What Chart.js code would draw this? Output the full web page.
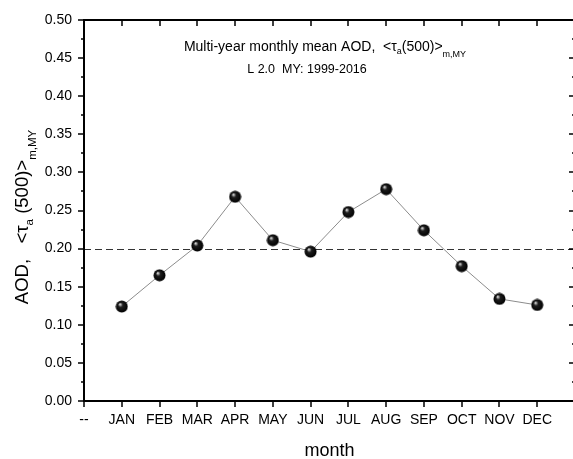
<!DOCTYPE html>
<html>
<head>
<meta charset="utf-8">
<script src="https://cdn.jsdelivr.net/npm/chart.js@4.4.1/dist/chart.umd.min.js"></script>
<style>
    html, body { margin: 0; padding: 0; overflow: hidden; background: #fff; }
</style>
</head>
<body>
<canvas id="chartAod" width="576" height="459"></canvas>
<script>
// Datos
const etiquetasMes = ['--', 'JAN', 'FEB', 'MAR', 'APR', 'MAY', 'JUN', 'JUL', 'AUG', 'SEP', 'OCT', 'NOV', 'DEC', ''];
const aodMensual = [0.124, 0.165, 0.204, 0.268, 0.211, 0.196, 0.248, 0.278, 0.224, 0.177, 0.134, 0.126];
const nivelReferencia = 0.20;
const rangoY = [0, 0.5];
const pasoY = 0.05;

const FUENTE = '"Liberation Sans", Arial, sans-serif';

// Marcador tipo esfera negra
function crearEsfera(r) {
    const c = document.createElement('canvas');
    c.width = c.height = r * 2 + 1;
    const g = c.getContext('2d');
    const cx = r + 0.5, cy = r + 0.5;
    const grad = g.createRadialGradient(cx - 2, cy - 2.5, 0, cx, cy, r);
    grad.addColorStop(0, '#ffffff');
    grad.addColorStop(0.14, '#b0b0b0');
    grad.addColorStop(0.38, '#1e1e1e');
    grad.addColorStop(1, '#000000');
    g.fillStyle = grad;
    g.beginPath();
    g.arc(cx, cy, r, 0, Math.PI * 2);
    g.fill();
    return c;
}

// Texto con subíndices
function dibujarTexto(ctx, partes, x, y, alinear) {
    let ancho = 0;
    partes.forEach(p => {
        ctx.font = p.tam + 'px ' + FUENTE;
        p.w = ctx.measureText(p.t).width;
        ancho += p.w;
    });
    let px = alinear === 'center' ? x - ancho / 2 : x;
    ctx.textAlign = 'left';
    ctx.textBaseline = 'alphabetic';
    ctx.fillStyle = '#000';
    partes.forEach(p => {
        ctx.font = p.tam + 'px ' + FUENTE;
        ctx.fillText(p.t, px, y + (p.dy || 0));
        px += p.w;
    });
}

const pluginMarco = {
    id: 'marco',
    beforeDatasetsDraw(chart) {
        const { ctx, chartArea: a, scales: { y } } = chart;
        const yy = Math.round(y.getPixelForValue(nivelReferencia)) + 0.5;
        ctx.save();
        ctx.strokeStyle = '#333';
        ctx.lineWidth = 1;
        ctx.setLineDash([7, 4]);
        ctx.beginPath();
        ctx.moveTo(a.left, yy);
        ctx.lineTo(a.right, yy);
        ctx.stroke();
        ctx.restore();
    },
    afterDraw(chart) {
        const { ctx, chartArea: a, scales: { x, y } } = chart;
        ctx.save();
        ctx.strokeStyle = '#000';
        ctx.lineWidth = 2;
        ctx.strokeRect(a.left, a.top, a.right - a.left, a.bottom - a.top);

        ctx.lineWidth = 1.5;
        ctx.beginPath();
        // marcas del eje x (abajo hacia afuera, arriba hacia adentro)
        etiquetasMes.forEach((_, i) => {
            const px = Math.round(x.getPixelForValue(i));
            ctx.moveTo(px, a.bottom); ctx.lineTo(px, a.bottom + 6);
            ctx.moveTo(px, a.top); ctx.lineTo(px, a.top + 6);
        });
        // marcas del eje y, mayores y menores
        for (let v = rangoY[0]; v <= rangoY[1] + 1e-9; v += pasoY / 2) {
            const py = Math.round(y.getPixelForValue(v));
            const mayor = Math.abs(v / pasoY - Math.round(v / pasoY)) < 1e-6;
            const l = mayor ? 6 : 3;
            ctx.moveTo(a.left, py); ctx.lineTo(a.left - l, py);
            ctx.moveTo(a.right, py); ctx.lineTo(a.right - l, py);
        }
        ctx.stroke();

        // títulos
        dibujarTexto(ctx, [
            { t: 'Multi-year monthly mean AOD,  <\u03c4', tam: 14 },
            { t: 'a', tam: 9, dy: 3 },
            { t: '(500)>', tam: 14 },
            { t: 'm,MY', tam: 9, dy: 6 }
        ], 325, 51, 'center');
        dibujarTexto(ctx, [{ t: 'L 2.0  MY: 1999-2016', tam: 12.5 }], 307, 73, 'center');

        dibujarTexto(ctx, [{ t: 'month', tam: 18 }], (a.left + a.right) / 2, 456, 'center');

        ctx.translate(28, 217);
        ctx.rotate(-Math.PI / 2);
        dibujarTexto(ctx, [
            { t: 'AOD,   <\u03c4', tam: 18.5 },
            { t: 'a', tam: 11.5, dy: 5 },
            { t: ' (500)>', tam: 18.5 },
            { t: 'm,MY', tam: 11.5, dy: 8 }
        ], 0, 0, 'center');
        ctx.restore();
    }
};

const esfera = crearEsfera(6);

new Chart(document.getElementById('chartAod'), {
    type: 'line',
    data: {
        labels: etiquetasMes,
        datasets: [{
            data: [null, ...aodMensual, null],
            borderColor: '#8c8c8c',
            borderWidth: 1,
            pointStyle: esfera,
            pointRadius: 6,
            tension: 0
        }]
    },
    options: {
        responsive: false,
        animation: false,
        layout: { autoPadding: false, padding: { top: 20, right: 1, left: 0, bottom: 0 } },
        plugins: {
            legend: { display: false },
            tooltip: { enabled: false }
        },
        scales: {
            x: {
                type: 'category',
                offset: false,
                grid: { display: false, drawTicks: false },
                border: { display: false },
                ticks: {
                    autoSkip: false,
                    maxRotation: 0,
                    padding: 11,
                    color: '#000',
                    font: { family: FUENTE, size: 14 }
                },
                afterFit: s => {
                    s.height = 58;
                    s.paddingLeft = 0;
                    s.paddingRight = 0;
                }
            },
            y: {
                min: rangoY[0],
                max: rangoY[1],
                grid: { display: false, drawTicks: false },
                border: { display: false },
                ticks: {
                    stepSize: pasoY,
                    padding: 12,
                    color: '#000',
                    font: { family: FUENTE, size: 14 },
                    callback: v => v.toFixed(2)
                },
                afterFit: s => {
                    s.width = 84;
                    s.paddingTop = 0;
                    s.paddingBottom = 0;
                }
            }
        }
    },
    plugins: [pluginMarco]
});
</script>
</body>
</html>
